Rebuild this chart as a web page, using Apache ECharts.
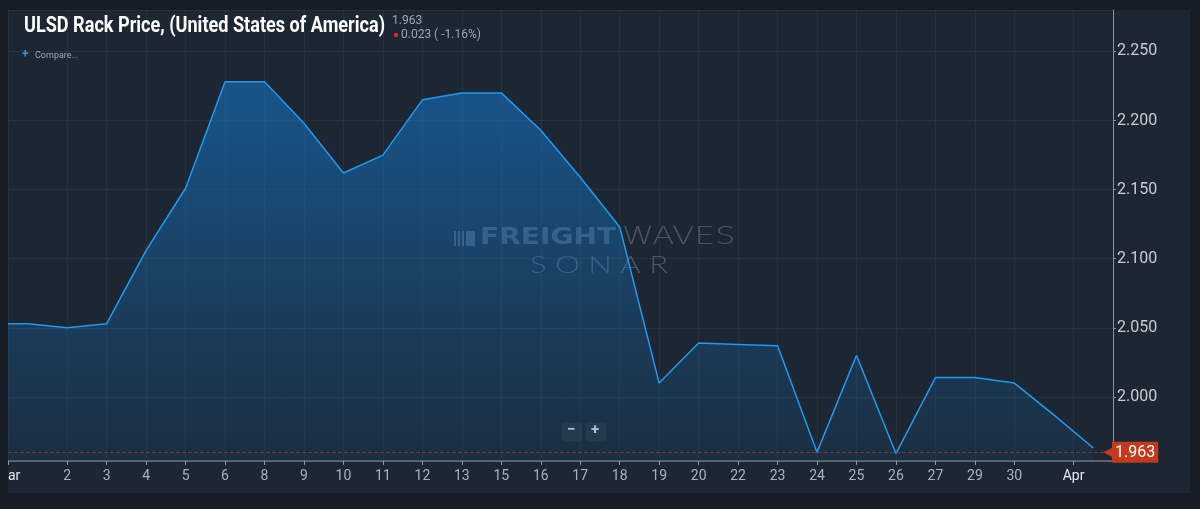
<!DOCTYPE html>
<html>
<head>
<meta charset="utf-8">
<script src="https://cdn.jsdelivr.net/npm/echarts@6/dist/echarts.min.js"></script>
<style>
html,body{margin:0;padding:0;background:#151c24;}
#main{width:1200px;height:509px;}
</style>
</head>
<body>
<div id="main"></div>
<script>
// ---- data ----
const dates = ['Mar 1','Mar 2','Mar 3','Mar 4','Mar 5','Mar 6','Mar 8','Mar 9','Mar 10','Mar 11','Mar 12','Mar 13','Mar 15','Mar 16','Mar 17','Mar 18','Mar 19','Mar 20','Mar 22','Mar 23','Mar 24','Mar 25','Mar 26','Mar 27','Mar 29','Mar 30','Mar 31','Apr 1'];
const dayLabels = ['','2','3','4','5','6','8','9','10','11','12','13','15','16','17','18','19','20','22','23','24','25','26','27','29','30','',''];
const monthLabels = ['Mar','Apr'];
const monthStarts = [0, 27];
const prices = [2.053, 2.050, 2.053, 2.106, 2.151, 2.228, 2.228, 2.198, 2.162, 2.175, 2.215, 2.220, 2.220, 2.193, 2.159, 2.123, 2.010, 2.039, 2.038, 2.037, 1.960, 2.030, 1.959, 2.014, 2.014, 2.010, 1.987, 1.963];
const edgePrice = 2.053;      // value where the line enters at the left edge
const lastPrice = 1.963;
const change = '0.023 ( -1.16%)';
const yTicks = [2.000, 2.050, 2.100, 2.150, 2.200, 2.250];
const titleText = 'ULSD Rack Price, (United States of America)';

// ---- build ordinal axis with half-step slots (month labels sit between days) ----
const cats = [], labelMap = {}, series = [];
for (let i = 0; i < dates.length; i++) {
  const sKey = 's' + i;
  const mi = monthStarts.indexOf(i);
  cats.push(sKey);
  labelMap[sKey] = mi >= 0 ? '{m|' + monthLabels[mi] + '}' : '';
  series.push(i === 0 ? edgePrice : null);
  const dKey = 'd' + i;
  cats.push(dKey);
  labelMap[dKey] = dayLabels[i];
  series.push(prices[i]);
}
cats.push('end'); labelMap['end'] = ''; series.push(null);

const showTick = (idx, val) => labelMap[cats[idx]] !== '' && labelMap[cats[idx]] !== undefined;

// condensed title: measure and squeeze to the reference width
const titleFont = "bold 22px Roboto, sans-serif";
const mctx = document.createElement('canvas').getContext('2d');
mctx.font = titleFont;
const titleScale = Math.min(1, 361 / mctx.measureText(titleText).width);

const wm = 'rgba(150,170,190,0.36)';
const chart = echarts.init(document.getElementById('main'));
chart.setOption({
  backgroundColor: '#151c24',
  animation: false,
  grid: { left: 8, right: 87, top: 10, bottom: 48, containLabel: false, outerBoundsMode: 'none' },
  graphic: [
    { type: 'rect', z: -10, silent: true, shape: { x: 8, y: 10, width: 1182, height: 483 }, style: { fill: '#1c2733' } },
    { type: 'rect', z: 100, silent: true, shape: { x: 0, y: 455, width: 8, height: 54 }, style: { fill: '#151c24' } },
    { type: 'text', x: 24, y: 15, scaleX: titleScale, style: { text: titleText, fill: '#ffffff', font: titleFont } },
    { type: 'text', x: 392, y: 15, style: { text: lastPrice.toFixed(3), fill: '#9ca6b0', font: "12px Roboto, sans-serif" } },
    { type: 'circle', shape: { cx: 396, cy: 35, r: 2.2 }, style: { fill: '#e5232b' } },
    { type: 'text', x: 401, y: 29, style: { text: change, fill: '#9ca6b0', font: "12px Roboto, sans-serif" } },
    { type: 'text', x: 22, y: 49, style: { text: '+', fill: '#2f8fe6', font: "bold 12px Roboto, sans-serif" } },
    { type: 'text', x: 35, y: 51, style: { text: 'Compare...', fill: '#9ca6b0', font: "9px Roboto, sans-serif" } },
    // watermark
    { type: 'group', x: 454, y: 229, silent: true, children: [
      { type: 'rect', shape: { x: 0, y: 2, width: 2, height: 15 }, style: { fill: wm } },
      { type: 'rect', shape: { x: 4, y: 2, width: 2, height: 15 }, style: { fill: wm } },
      { type: 'rect', shape: { x: 8, y: 2, width: 2, height: 15 }, style: { fill: wm } },
      { type: 'rect', shape: { x: 12, y: 2, width: 9, height: 15 }, style: { fill: wm } },
      { type: 'text', x: 26, y: -2, scaleX: 1.22, style: { text: '{b|FREIGHT}', rich: {
        b: { fill: wm, font: "bold 23px 'DejaVu Sans', sans-serif" } } } },
      { type: 'text', x: 168, y: -3, scaleX: 1.35, style: { text: '{t|WAVES}', rich: {
        t: { fill: wm, font: "200 24px 'DejaVu Sans', Lato, sans-serif" } } } }
    ]},
    { type: 'text', x: 530, y: 253, silent: true, scaleX: 1.3, style: { text: 'S O N A R', fill: wm, font: "300 24px Lato, sans-serif" } },
    // zoom buttons
    { type: 'group', x: 562, y: 423, children: [
      { type: 'rect', shape: { x: 0, y: 0, width: 20, height: 18, r: 2 }, style: { fill: 'rgba(255,255,255,0.05)' } },
      { type: 'rect', shape: { x: 24, y: 0, width: 20, height: 18, r: 2 }, style: { fill: 'rgba(255,255,255,0.05)' } },
      { type: 'text', x: 5, y: 0, style: { text: '−', fill: '#c8cdd2', font: "bold 15px Roboto, sans-serif" } },
      { type: 'text', x: 29, y: 0, style: { text: '+', fill: '#c8cdd2', font: "bold 15px Roboto, sans-serif" } }
    ]}
  ],
  xAxis: {
    type: 'category',
    data: cats,
    boundaryGap: false,
    axisLine: { lineStyle: { color: '#6b7580', width: 1.5 } },
    axisTick: { interval: showTick, length: 4, lineStyle: { color: '#8a949e' } },
    axisLabel: {
      interval: showTick, margin: 8, alignMinLabel: 'center', alignMaxLabel: 'center',
      formatter: v => labelMap[v],
      color: '#a9b2bb', fontSize: 14, fontFamily: 'Roboto, sans-serif',
      rich: { m: { color: '#e8ecf0', fontSize: 14, fontFamily: 'Roboto, sans-serif' } }
    },
    splitLine: { show: true, interval: showTick, lineStyle: { color: 'rgba(255,255,255,0.045)' } }
  },
  yAxis: {
    type: 'value',
    position: 'right',
    min: 1.9536, max: 2.28, splitNumber: 6,
    axisLine: { show: true, lineStyle: { color: '#8a949e' } },
    axisTick: { show: true, length: 3, lineStyle: { color: '#8a949e' } },
    axisLabel: {
      showMinLabel: false, showMaxLabel: false, margin: 4,
      formatter: v => yTicks.some(t => Math.abs(t - v) < 1e-6) ? v.toFixed(3) : '',
      color: '#c8cdd2', fontSize: 16, fontFamily: 'Roboto, sans-serif'
    },
    splitLine: { lineStyle: { color: 'rgba(255,255,255,0.05)' } }
  },
  series: [{
    type: 'line',
    data: series,
    connectNulls: true,
    symbol: 'none',
    lineStyle: { color: '#1e9bf0', width: 1.5 },
    areaStyle: {
      color: new echarts.graphic.LinearGradient(0, 0, 0, 1, [
        { offset: 0, color: 'rgba(20,120,205,0.8)' },
        { offset: 1, color: 'rgba(20,120,205,0.12)' }
      ])
    },
    markLine: {
      silent: true, symbol: 'none',
      lineStyle: { color: '#6e3a4e', type: 'dashed', width: 1 },
      data: [{ yAxis: lastPrice }],
      label: {
        position: 'end', distance: -10,
        formatter: '{a|◀}{b|' + lastPrice.toFixed(3) + '}',
        rich: {
          a: { color: '#c23a1c', fontSize: 14, padding: [0, -2, 0, 0] },
          b: { color: '#ffffff', backgroundColor: '#c23a1c', fontSize: 16, fontFamily: 'Roboto, sans-serif', padding: [3, 3, 2, 3] }
        }
      }
    }
  }]
});
</script>
</body>
</html>
